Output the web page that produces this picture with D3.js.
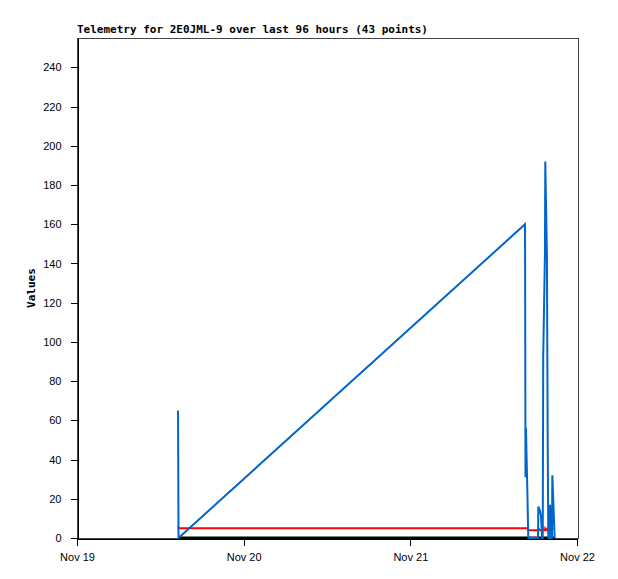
<!DOCTYPE html>
<html>
<head>
<meta charset="utf-8">
<script src="https://d3js.org/d3.v7.min.js"></script>
<style>
body{margin:0;background:#fff;}
.tick text{font-family:"Liberation Sans",Arial,sans-serif;font-size:11px;fill:#000;}
.domain,.tick line{stroke:#000;}
</style>
</head>
<body>
<div class="visHolder"></div>
<script>
var width=618,
    height=579,
    padLeft=77,padRight=577,padTop=38,padBottom=538;

// sample times (UTC)
var times=["2023-11-19T14:33","2023-11-19T14:37","2023-11-21T16:31","2023-11-21T16:35",
"2023-11-21T16:39","2023-11-21T16:45","2023-11-21T16:51","2023-11-21T16:59",
"2023-11-21T18:23","2023-11-21T18:26","2023-11-21T18:40","2023-11-21T18:49",
"2023-11-21T18:58","2023-11-21T19:04","2023-11-21T19:08","2023-11-21T19:23",
"2023-11-21T19:26","2023-11-21T19:40","2023-11-21T19:47","2023-11-21T19:52",
"2023-11-21T20:04","2023-11-21T20:07","2023-11-21T20:15","2023-11-21T20:24",
"2023-11-21T20:27","2023-11-21T20:47"];
var blueVals=[65,0,160,31,56,40,24,0,0,16,14,11,0,0,92,145,192,145,48,0,0,17,0,0,32,0];
var redVals=[6,5,5,5,5,5,5,4,4,5,4,4,4,5,4,4,5,4,4,5,4,4,5,5,5,5];
var blackVals=[0,0,0,0,0,0,0,0,0,0,0,0,0,0,0,0,0,0,0,0,0,0,0,0,0,0];
var yTicks=[0,20,40,60,80,100,120,140,160,180,200,220,240];
var xStart="2023-11-19T00:00",xEnd="2023-11-22T00:00";

var parse=d3.utcParse("%Y-%m-%dT%H:%M");
var dates=times.map(function(t){return parse(t);});

var svg=d3.select('.visHolder')
.append('svg')
.attr('width',width)
.attr('height',height)
.style('display','block');

var xScale=d3.scaleUtc()
  .domain([parse(xStart),parse(xEnd)])
  .range([padLeft,padRight]);
var yScale=d3.scaleLinear()
  .domain([0,255])
  .range([padBottom,padTop]);

// frame
svg.append("rect")
.attr("x",padLeft+0.5).attr("y",padTop+0.5)
.attr("width",padRight-padLeft+1).attr("height",padBottom-padTop)
.attr("fill","none").attr("stroke","#444")
.attr("shape-rendering","crispEdges");

var xAxis=d3.axisBottom(xScale)
  .ticks(d3.utcDay.every(1))
  .tickFormat(d3.utcFormat("%b %d"))
  .tickSize(7).tickPadding(8).tickSizeOuter(0);
var yAxis=d3.axisLeft(yScale)
  .tickValues(yTicks)
  .tickSize(7).tickPadding(9).tickSizeOuter(0);

svg.append("g")
.attr("transform","translate(0,"+(padBottom+0.5)+")")
.attr("shape-rendering","crispEdges")
.call(xAxis);
svg.append("g")
.attr("transform","translate("+(padLeft+0.5)+",0)")
.attr("shape-rendering","crispEdges")
.call(yAxis);

function drawSeries(vals,color,w){
  var line=d3.line()
    .x(function(d,i){return xScale(dates[i]);})
    .y(function(d){return yScale(d);});
  svg.append("path")
  .datum(vals)
  .attr("d",line)
  .attr("fill","none")
  .attr("stroke",color)
  .attr("stroke-width",w)
  .attr("stroke-linejoin","miter");
}
drawSeries(blackVals,"#000",3);
drawSeries(redVals,"#ff0000",2);
drawSeries(blueVals,"#0066cc",2);

svg.append("text")
.attr("x",padLeft)
.attr("y",padTop-5)
.style("font-family","'DejaVu Sans Mono',monospace")
.style("font-weight","bold")
.style("font-size","11px")
.text("Telemetry for 2E0JML-9 over last 96 hours (43 points)");

svg.append("text")
.attr("transform","translate(35,"+((padTop+padBottom)/2)+") rotate(-90)")
.attr("text-anchor","middle")
.style("font-family","'DejaVu Sans Mono',monospace")
.style("font-weight","bold")
.style("font-size","11px")
.text("Values");
</script>
</body>
</html>
